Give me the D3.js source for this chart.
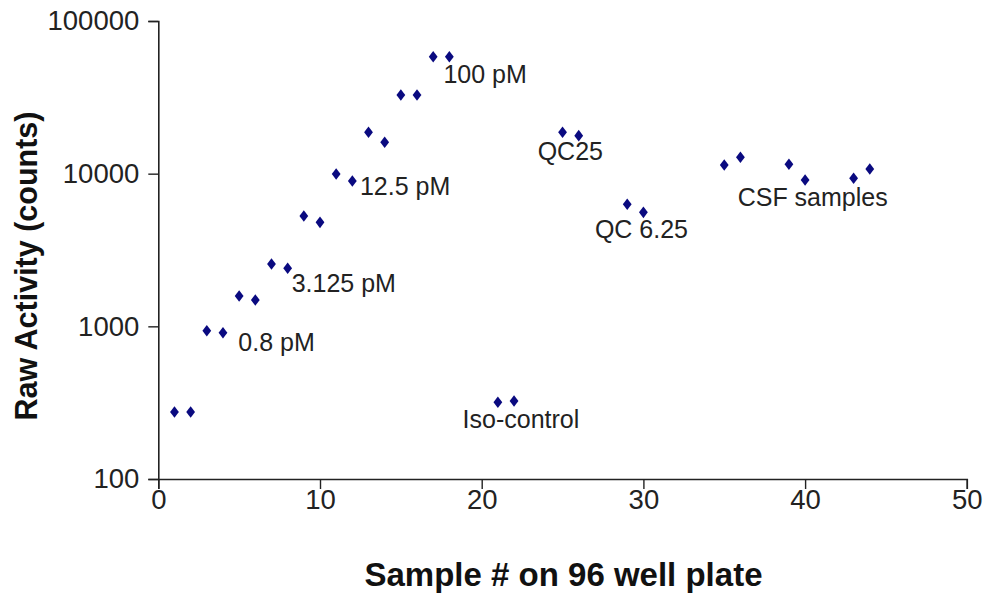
<!DOCTYPE html>
<html>
<head>
<meta charset="utf-8">
<script src="https://cdn.jsdelivr.net/npm/d3@7"></script>
<style>
  html, body { margin: 0; padding: 0; background: #fff; }
  svg { display: block; font-family: "Liberation Sans", Arial, Helvetica, sans-serif; }
</style>
</head>
<body>
<svg id="chart" width="987" height="598"></svg>
<script>
// ---- data ----
const samples = [1, 2, 3, 4, 5, 6, 7, 8, 9, 10, 11, 12, 13, 14, 15, 16, 17, 18,
                 21, 22, 25, 26, 29, 30, 35, 36, 39, 40, 43, 44];
const counts  = [275, 275, 936, 908, 1580, 1488, 2560, 2400, 5280, 4800, 9950, 8950,
                 18660, 16050, 32750, 32750, 58350, 58350,
                 318, 324, 18660, 17740, 6300, 5580, 11400, 12800, 11520, 9090, 9325, 10730];
const xTicks = [0, 10, 20, 30, 40, 50];
const yTicks = [100, 1000, 10000, 100000];
const labelText = ["100 pM", "12.5 pM", "3.125 pM", "0.8 pM", "QC25", "QC 6.25", "CSF samples", "Iso-control"];
const labelSample = [17.63, 12.47, 8.25, 4.95, 23.46, 27.0, 35.83, 18.82];
const labelCount  = [39070, 7250, 1686, 689, 12290, 3773, 6141, 215];

// ---- layout ----
const svg = d3.select("#chart");
const x = d3.scaleLinear().domain([0, 50]).range([158.3, 966.8]);
const y = d3.scaleLog().domain([100, 100000]).range([479, 21]);
const ink = "#222";

// x axis
const gx = svg.append("g").attr("transform", `translate(0,${y(100)})`)
  .call(d3.axisBottom(x).tickValues(xTicks).tickFormat(d3.format("d")).tickSize(10).tickPadding(0));
gx.select(".domain").attr("stroke", ink).attr("stroke-width", 1.6);
gx.selectAll(".tick line").attr("stroke", ink).attr("stroke-width", 1.4);
gx.selectAll(".tick text").attr("fill", ink).attr("font-size", 27.5)
  .attr("font-family", "'Liberation Sans', Arial, sans-serif");

// y axis
const gy = svg.append("g").attr("transform", `translate(${x(0)},0)`)
  .call(d3.axisLeft(y).tickValues(yTicks).tickFormat(d3.format("d")).tickSize(10).tickPadding(9));
gy.select(".domain").attr("stroke", ink).attr("stroke-width", 1.6);
gy.selectAll(".tick line").attr("stroke", ink).attr("stroke-width", 1.4);
gy.selectAll(".tick text").attr("fill", ink).attr("font-size", 27.5)
  .attr("font-family", "'Liberation Sans', Arial, sans-serif");

// axis titles
svg.append("text")
  .attr("x", 563.5).attr("y", 586)
  .attr("text-anchor", "middle")
  .attr("font-size", 33).attr("font-weight", "bold").attr("fill", "#111")
  .text("Sample # on 96 well plate");

svg.append("text")
  .attr("transform", "translate(37,266) rotate(-90)")
  .attr("text-anchor", "middle")
  .attr("font-size", 30.5).attr("font-weight", "bold").attr("fill", "#111")
  .text("Raw Activity (counts)");

// points (diamonds)
const pts = samples.map((s, i) => ({ s, c: counts[i] }));
const diamond = "M0,-5.8L4.4,0L0,5.8L-4.4,0Z";
svg.append("g").selectAll("path").data(pts).join("path")
  .attr("d", diamond)
  .attr("transform", d => `translate(${x(d.s)},${y(d.c)})`)
  .attr("fill", "#0a0a80");

// annotations
const labels = labelText.map((t, i) => ({ t, s: labelSample[i], c: labelCount[i] }));
svg.append("g").selectAll("text").data(labels).join("text")
  .attr("x", d => x(d.s)).attr("y", d => y(d.c))
  .attr("font-size", 25).attr("fill", ink)
  .text(d => d.t);
</script>
</body>
</html>
